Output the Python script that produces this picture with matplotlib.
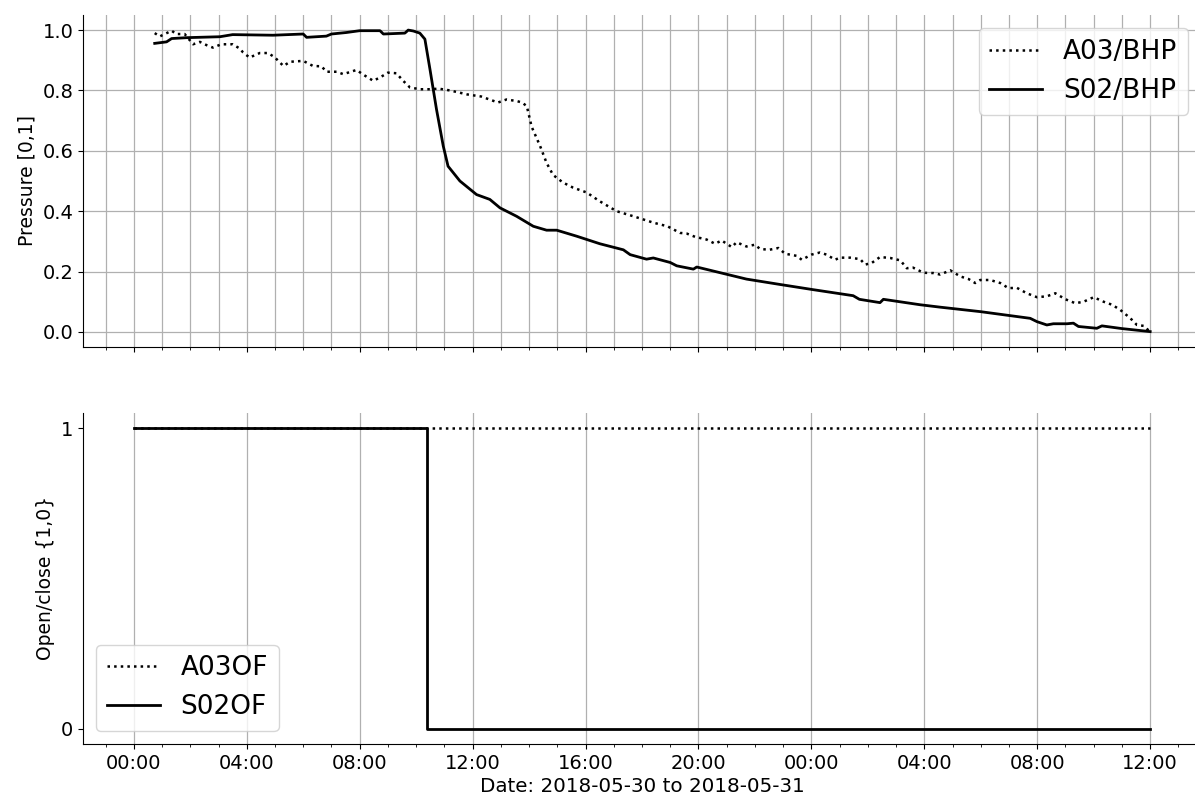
import matplotlib
matplotlib.use('Agg')
import matplotlib.pyplot as plt
import matplotlib.dates as mdates
import pandas as pd

# ---- data (hours after 2018-05-30 00:00) ----
a03_hours = [0.74, 0.92, 1.10, 1.34, 1.50, 1.80, 2.10, 2.34, 2.58, 2.80, 3.10, 3.50, 3.75, 3.87,
             4.10, 4.46, 4.76, 5.00, 5.30, 5.53, 6.00, 6.35, 6.65, 6.82, 7.18, 7.42, 7.89, 8.10,
             8.48, 8.72, 9.00, 9.30, 9.54, 9.78, 10.13, 10.50, 10.80, 11.20, 11.80, 12.30, 12.60,
             12.90, 13.20, 13.56, 13.75, 13.92, 14.09, 14.39, 14.62, 14.85, 15.20, 15.56, 16.04,
             16.50, 17.10, 17.70, 18.40, 18.90, 19.35, 19.58, 19.88, 20.29, 20.59, 20.82, 21.18,
             21.35, 21.70, 22.00, 22.18, 22.50, 22.83, 23.07, 23.48, 23.66, 24.00, 24.30, 24.54,
             24.84, 25.00, 25.37, 25.73, 25.90, 26.13, 26.43, 26.79, 27.15, 27.38, 27.60, 27.97,
             28.32, 28.56, 28.92, 29.27, 29.57, 29.80, 29.98, 30.33, 30.69, 30.98, 31.28, 31.63,
             31.99, 32.34, 32.64, 33.00, 33.35, 33.64, 34.00, 34.35, 34.65, 34.94, 35.30, 35.53,
             35.77, 36.00]
a03_bhp = [0.990, 0.979, 0.987, 0.998, 0.987, 0.987, 0.953, 0.961, 0.950, 0.942, 0.953, 0.953, 0.939, 0.926,
           0.909, 0.924, 0.924, 0.909, 0.881, 0.895, 0.898, 0.881, 0.880, 0.862, 0.862, 0.854, 0.868, 0.854,
           0.832, 0.843, 0.859, 0.857, 0.832, 0.810, 0.804, 0.804, 0.806, 0.800, 0.787, 0.780, 0.770,
           0.760, 0.770, 0.765, 0.760, 0.748, 0.680, 0.616, 0.560, 0.520, 0.495, 0.478, 0.462,
           0.433, 0.400, 0.383, 0.362, 0.350, 0.328, 0.326, 0.315, 0.306, 0.292, 0.303, 0.281,
           0.297, 0.283, 0.289, 0.275, 0.272, 0.278, 0.259, 0.252, 0.239, 0.256, 0.263, 0.256,
           0.239, 0.246, 0.246, 0.241, 0.223, 0.228, 0.248, 0.245, 0.237, 0.211, 0.213, 0.196,
           0.195, 0.190, 0.204, 0.184, 0.175, 0.162, 0.172, 0.172, 0.162, 0.145, 0.146, 0.128,
           0.115, 0.118, 0.128, 0.108, 0.095, 0.100, 0.115, 0.100, 0.090, 0.073, 0.045, 0.023,
           0.020, 0.000]

s02_hours = [0.74, 1.16, 1.34, 1.90, 3.05, 3.50, 4.93, 6.00, 6.12, 6.82, 7.00, 7.53, 8.00, 8.72,
             8.84, 9.60, 9.72, 9.90, 10.13, 10.31, 10.49, 10.72, 10.96, 11.13, 11.55, 12.14,
             12.61, 12.97, 13.56, 14.15, 14.62, 14.98, 15.69, 16.51, 17.34, 17.58, 18.16, 18.40,
             19.00, 19.23, 19.82, 19.94, 21.70, 22.90, 24.06, 25.48, 25.70, 26.43, 26.55, 27.85,
             28.56, 30.00, 31.75, 31.99, 32.34, 32.57, 33.05, 33.28, 33.46, 34.11, 34.29, 35.00,
             36.00]
s02_bhp = [0.956, 0.961, 0.972, 0.975, 0.978, 0.985, 0.983, 0.987, 0.976, 0.980, 0.987, 0.992, 0.998, 0.998,
           0.987, 0.990, 1.000, 0.997, 0.990, 0.970, 0.870, 0.738, 0.616, 0.549, 0.500, 0.455,
           0.439, 0.411, 0.383, 0.350, 0.337, 0.337, 0.317, 0.292, 0.272, 0.256, 0.241, 0.245,
           0.230, 0.219, 0.208, 0.215, 0.175, 0.157, 0.140, 0.120, 0.108, 0.097, 0.108, 0.090,
           0.082, 0.067, 0.045, 0.034, 0.023, 0.027, 0.027, 0.029, 0.018, 0.012, 0.020, 0.011,
           0.001]

a03of_hours = [0.0, 36.0]
a03of = [1, 1]
s02of_hours = [0.0, 10.38, 36.0]
s02of = [1, 0, 0]

base = pd.Timestamp('2018-05-30 00:00')
def to_time(hours):
    return base + pd.to_timedelta(hours, unit='h')

W, H = 1195, 799
fig = plt.figure(figsize=(W / 100, H / 100), dpi=100)
left = 83 / W
width = (1201 - 83) / W
ax1 = fig.add_axes([left, (H - 347) / H, width, (347 - 15) / H])
ax2 = fig.add_axes([left, (H - 744) / H, width, (744 - 413) / H], sharex=ax1)

ax1.plot(to_time(a03_hours), a03_bhp, linestyle=':', color='black', lw=1.8, label='A03/BHP')
ax1.plot(to_time(s02_hours), s02_bhp, linestyle='-', color='black', lw=2, label='S02/BHP')

ax2.plot(to_time(a03of_hours), a03of, linestyle=':', color='black', lw=1.8,
         drawstyle='steps-post', label='A03OF')
ax2.plot(to_time(s02of_hours), s02of, linestyle='-', color='black', lw=2,
         drawstyle='steps-post', label='S02OF')

ax2.set_xlim(base - pd.Timedelta(hours=1.8), base + pd.Timedelta(hours=37.8))
ax1.set_ylim(-0.05, 1.05)
ax2.set_ylim(-0.05, 1.05)

ax2.xaxis.set_major_locator(mdates.HourLocator(byhour=range(0, 24, 4)))
ax2.xaxis.set_minor_locator(mdates.HourLocator())
ax2.xaxis.set_major_formatter(mdates.DateFormatter('%H:%M'))
ax1.tick_params(labelbottom=False)

ax1.set_yticks([0.0, 0.2, 0.4, 0.6, 0.8, 1.0])
ax2.set_yticks([0, 1])

for ax in (ax1, ax2):
    ax.spines['top'].set_visible(False)
    ax.spines['right'].set_visible(False)
    ax.tick_params(axis='both', which='major', labelsize=14)

ax1.grid(True, which='both', axis='x', color='#b0b0b0', lw=0.9)
ax1.grid(True, which='major', axis='y', color='#b0b0b0', lw=0.9)
ax2.grid(True, which='major', axis='x', color='#b0b0b0', lw=0.9)

ax1.set_ylabel('Pressure [0,1]', fontsize=13.5)
ax2.set_ylabel('Open/close {1,0}', fontsize=13.5)
ax2.set_xlabel('Date: 2018-05-30 to 2018-05-31', fontsize=14.3, labelpad=3)

ax1.legend(loc='upper right', fontsize=19)
ax2.legend(loc='lower left', fontsize=19)

fig.savefig('out.png', dpi=100)
